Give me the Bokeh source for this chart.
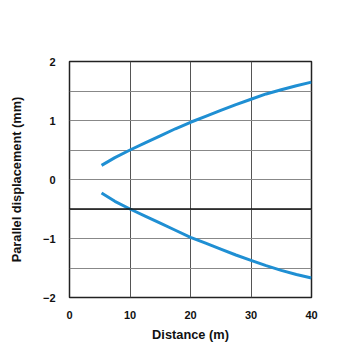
from bokeh.plotting import figure
from bokeh.models import FixedTicker, Range1d, Span
from bokeh.embed import file_html
from bokeh.resources import INLINE

# Data
distance = [5.3, 7.5, 10, 12.5, 15, 17.5, 20, 22.5, 25, 27.5, 30, 32.5, 35, 37.5, 40]
upper = [0.24, 0.37, 0.50, 0.62, 0.74, 0.86, 0.97, 1.07, 1.17, 1.27, 1.36, 1.45, 1.52, 1.59, 1.65]
lower = [-0.23, -0.37, -0.50, -0.62, -0.74, -0.86, -0.98, -1.08, -1.18, -1.28, -1.37, -1.46, -1.54, -1.61, -1.67]
x_ticks = [0, 10, 20, 30, 40]
y_ticks = [-2, -1, 0, 1, 2]
y_grid = [-1.5, -1, -0.5, 0, 0.5, 1, 1.5]

FONT = "Liberation Sans"
BLUE = "#1f8fd3"

p = figure(width=340, height=347, output_backend="svg", toolbar_location=None,
           x_range=Range1d(0, 40), y_range=Range1d(-2, 2),
           min_border_left=69, min_border_right=29, min_border_top=61, min_border_bottom=50)
p.background_fill_color = "white"
p.border_fill_color = "white"
p.outline_line_color = "#222222"
p.outline_line_width = 1.5

p.xaxis.ticker = FixedTicker(ticks=x_ticks)
p.yaxis.ticker = FixedTicker(ticks=y_ticks)
p.xgrid.ticker = FixedTicker(ticks=[10, 20, 30])
p.ygrid.ticker = FixedTicker(ticks=y_grid)
p.xgrid.grid_line_color = "#555555"
p.ygrid.grid_line_color = "#888888"
p.xgrid.grid_line_width = 1
p.ygrid.grid_line_width = 1

for ax in (p.xaxis, p.yaxis):
    ax.axis_line_color = None
    ax.major_tick_line_color = None
    ax.minor_tick_line_color = None
    ax.major_label_text_font = FONT
    ax.major_label_text_font_style = "bold"
    ax.major_label_text_font_size = "11px"
    ax.major_label_text_color = "#111111"
    ax.axis_label_text_font = FONT
    ax.axis_label_text_font_style = "bold"
    ax.axis_label_text_font_size = "12.8px"
    ax.axis_label_text_color = "#111111"

p.xaxis.axis_label = "Distance (m)"
p.yaxis.axis_label = "Parallel displacement (mm)"
p.xaxis.major_label_standoff = 7
p.yaxis.major_label_standoff = 8
p.xaxis.axis_label_standoff = 5
p.yaxis.axis_label_standoff = 16
p.yaxis.major_label_overrides = {-1: "\u22121", -2: "\u22122"}

p.add_layout(Span(location=-0.5, dimension="width", line_color="#111111", line_width=1.5))

p.line(distance, upper, line_color=BLUE, line_width=3)
p.line(distance, lower, line_color=BLUE, line_width=3)

open("out.html", "w").write(file_html(p, INLINE))
